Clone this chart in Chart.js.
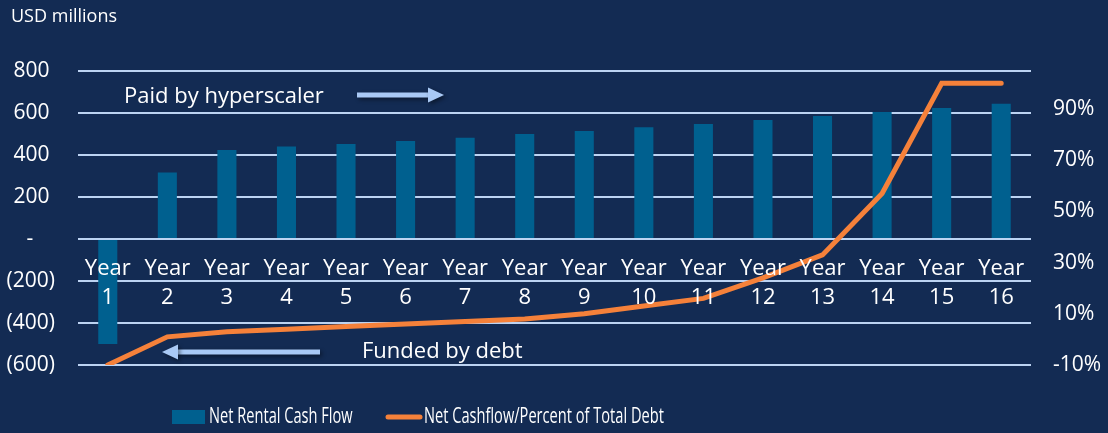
<!DOCTYPE html>
<html>
<head>
<meta charset="utf-8">
<script src="https://cdn.jsdelivr.net/npm/chart.js@4.4.1/dist/chart.umd.min.js"></script>
<style>
  html, body { margin: 0; padding: 0; background: #132b53; }
  #wrap { width: 1108px; height: 433px; }
</style>
</head>
<body>
<div id="wrap"><canvas id="rental-cash-flow"></canvas></div>
<script>
// Chart data...
const years = ['1', '2', '3', '4', '5', '6', '7', '8', '9', '10', '11', '12', '13', '14', '15', '16'];
const netRentalCashFlow = [-500, 317, 424, 440, 452, 467, 482, 500, 514, 532, 548, 567, 586, 605, 624, 644];
const percentOfTotalDebt = [-10, 1, 3, 4, 5, 6, 7, 8, 10, 13, 16, 24, 33, 57, 100, 100];
const leftTicks = [-600, -400, -200, 0, 200, 400, 600, 800];
const rightTicks = [-10, 10, 30, 50, 70, 90];

const FONT = '"Open Sans", "Noto Sans", sans-serif';
const WHITE = '#ffffff';
const ARROW = '#a9c9f5';

function formatUsd(v) {
  if (v === 0) return '-    ';
  if (v < 0) return '(' + Math.abs(v) + ')';
  return v + ' ';
}

function drawArrow(ctx, x1, x2, y) {
  // x1 = tail, x2 = tip
  const dir = x2 > x1 ? 1 : -1;
  const head = 16;
  ctx.save();
  ctx.shadowColor = 'rgba(0, 0, 0, 0.45)';
  ctx.shadowBlur = 4;
  ctx.shadowOffsetX = 2;
  ctx.shadowOffsetY = 2;
  ctx.fillStyle = ARROW;
  ctx.fillRect(Math.min(x1, x2 - dir * head), y - 2.5, Math.abs(x2 - dir * head - x1), 5);
  ctx.beginPath();
  ctx.moveTo(x2, y);
  ctx.lineTo(x2 - dir * head, y - 7.5);
  ctx.lineTo(x2 - dir * head, y + 7.5);
  ctx.closePath();
  ctx.fill();
  ctx.restore();
}

function drawCondensed(ctx, text, x, y, squeeze) {
  ctx.save();
  ctx.translate(x, y);
  ctx.scale(squeeze, 1);
  ctx.fillText(text, 0, 0);
  ctx.restore();
  return ctx.measureText(text).width * squeeze;
}

const annotationsPlugin = {
  id: 'annotations',
  afterDraw(chart) {
    const ctx = chart.ctx;
    ctx.save();
    ctx.fillStyle = WHITE;
    ctx.textBaseline = 'alphabetic';
    ctx.textAlign = 'left';

    ctx.font = '18px ' + FONT;
    ctx.fillText('USD millions', 11, 22);

    ctx.font = '22px ' + FONT;
    ctx.fillText('Paid by hyperscaler', 124, 103);
    drawArrow(ctx, 357, 444, 95);

    ctx.fillText('Funded by debt', 362, 357.5);
    drawArrow(ctx, 320, 162, 352);

    // legend...
    const bar = chart.data.datasets[0];
    const line = chart.data.datasets[1];
    ctx.font = '21.5px ' + FONT;
    ctx.fillStyle = bar.backgroundColor;
    ctx.fillRect(172, 410, 33, 14);
    ctx.fillStyle = WHITE;
    drawCondensed(ctx, bar.label, 209, 423, 0.68);

    ctx.strokeStyle = line.borderColor;
    ctx.lineWidth = 5;
    ctx.lineCap = 'round';
    ctx.beginPath();
    ctx.moveTo(388, 417);
    ctx.lineTo(420, 417);
    ctx.stroke();
    drawCondensed(ctx, line.label, 424, 423, 0.68);
    ctx.restore();
  }
};

const chart = new Chart(document.querySelector('#rental-cash-flow'), {
  data: {
    labels: years.map(y => ['Year', y]),
    datasets: [{
      type: 'bar',
      label: 'Net Rental Cash Flow',
      data: netRentalCashFlow,
      yAxisID: 'y',
      backgroundColor: '#00608f',
      barPercentage: 0.32,
      categoryPercentage: 1,
      order: 1
    }, {
      type: 'line',
      label: 'Net Cashflow/Percent of Total Debt',
      data: percentOfTotalDebt,
      yAxisID: 'y1',
      borderColor: '#f5813a',
      borderWidth: 5,
      borderCapStyle: 'round',
      pointRadius: 0,
      tension: 0,
      order: 0
    }]
  },
  options: {
    responsive: true,
    maintainAspectRatio: false,
    animation: false,
    layout: { padding: { top: 71, bottom: 68, left: 0, right: 0 } },
    plugins: {
      legend: { display: false },
      tooltip: { enabled: false }
    },
    scales: {
      x: {
        position: { y: 0 },
        grid: { display: false, drawTicks: false },
        border: { display: false },
        ticks: {
          z: 1,
          color: WHITE,
          font: { family: FONT, size: 22, lineHeight: 1.33 },
          padding: 15,
          maxRotation: 0,
          autoSkip: false
        }
      },
      y: {
        position: 'left',
        min: -600,
        max: 800,
        afterBuildTicks: s => { s.ticks = leftTicks.map(v => ({ value: v })); },
        afterFit: s => { s.width = 78; },
        grid: { color: '#bcd3f2', lineWidth: 2, drawTicks: false },
        border: { display: false },
        ticks: {
          color: WHITE,
          font: { family: FONT, size: 21 },
          padding: 23,
          callback: v => formatUsd(v)
        }
      },
      y1: {
        position: 'right',
        min: -10,
        max: 104.8,
        afterBuildTicks: s => { s.ticks = rightTicks.map(v => ({ value: v })); },
        afterFit: s => { s.width = 77; },
        grid: { display: false, drawTicks: false },
        border: { display: false },
        ticks: {
          color: WHITE,
          font: { family: FONT, size: 21 },
          padding: 22,
          callback: v => v + '%'
        }
      }
    }
  },
  plugins: [annotationsPlugin]
});
</script>
</body>
</html>
